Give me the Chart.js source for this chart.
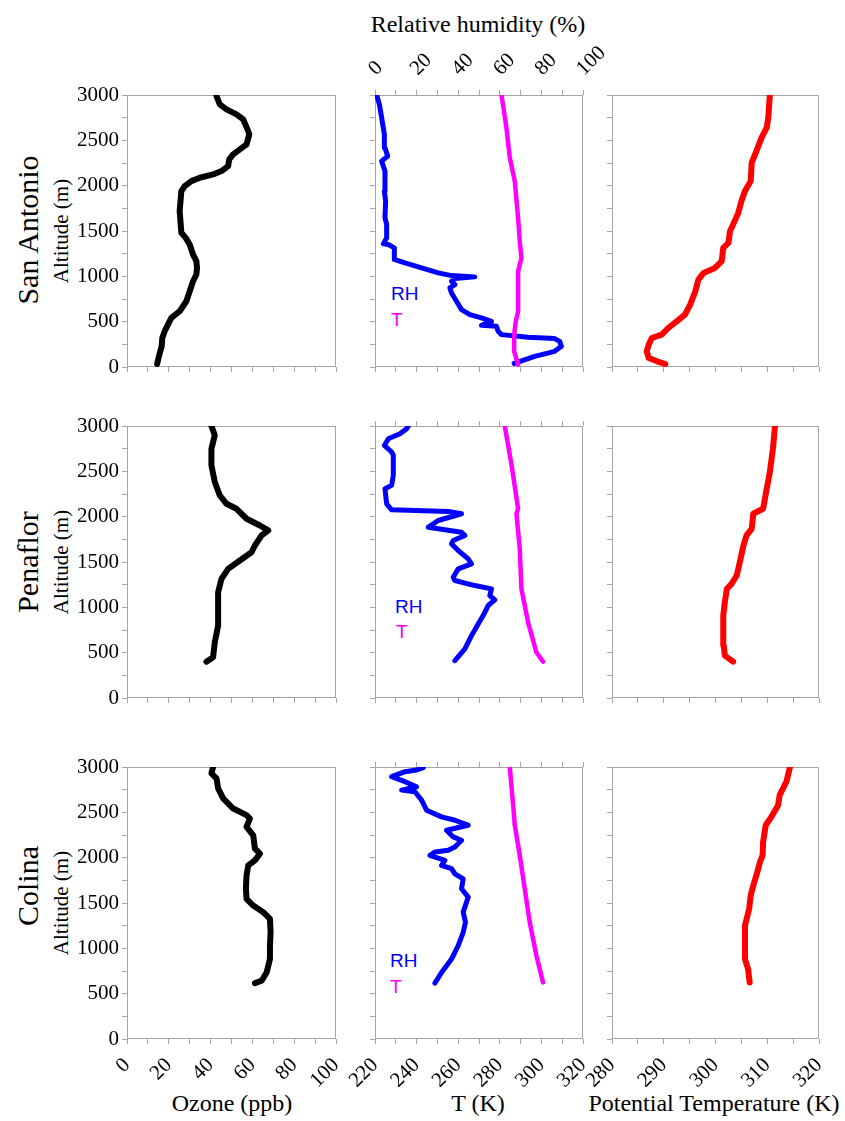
<!DOCTYPE html>
<html>
<head>
<meta charset="utf-8">
<script src="https://cdn.jsdelivr.net/npm/chart.js@4"></script>
<style>
body { margin: 0; background: #fff; }
#page { position: relative; width: 845px; height: 1121px; font-family: 'Liberation Serif', 'Times New Roman', serif; color: #000; overflow: hidden; }
canvas { position: absolute; }
.lbl { position: absolute; white-space: nowrap; line-height: 1; transform: translate(-50%, -50%); }
.rot { transform: translate(-50%, -50%) rotate(-90deg); }
.note { position: absolute; font-family: 'Liberation Sans', Arial, sans-serif; font-size: 19px; line-height: 1; }
</style>
</head>
<body>
<div id="page">
  <div class="lbl" style="left:478px;top:24px;font-size:24px;">Relative humidity (%)</div>

  <div class="lbl rot" style="left:28px;top:230px;font-size:30px;">San Antonio</div>
  <div class="lbl rot" style="left:61px;top:231px;font-size:21px;">Altitude (m)</div>
  <div class="lbl rot" style="left:28px;top:562px;font-size:30px;">Penaflor</div>
  <div class="lbl rot" style="left:61px;top:562px;font-size:21px;">Altitude (m)</div>
  <div class="lbl rot" style="left:28px;top:886px;font-size:30px;">Colina</div>
  <div class="lbl rot" style="left:61px;top:903px;font-size:21px;">Altitude (m)</div>

  <div class="note" style="left:391px;top:284px;color:#0000ff;">RH</div>
  <div class="note" style="left:391px;top:310px;color:#ff00ff;">T</div>
  <div class="note" style="left:395px;top:597px;color:#0000ff;">RH</div>
  <div class="note" style="left:396px;top:622px;color:#ff00ff;">T</div>
  <div class="note" style="left:390px;top:951px;color:#0000ff;">RH</div>
  <div class="note" style="left:390px;top:977px;color:#ff00ff;">T</div>

  <div class="lbl" style="left:232px;top:1103px;font-size:24px;">Ozone (ppb)</div>
  <div class="lbl" style="left:478px;top:1103px;font-size:24px;">T (K)</div>
  <div class="lbl" style="left:714px;top:1103px;font-size:24px;">Potential Temperature (K)</div>
</div>
<script>
// profiles: [value, altitude (m)]
const saOzone = [[14.4,33],[14.9,81],[15.7,155],[16.6,228],[16.9,320],[18,394],[19.6,467],[21.2,541],[25.2,615],[28.4,725],[30,836],[31.6,946],[33.2,1020],[33.5,1093],[33.2,1167],[31.6,1240],[30,1351],[28.1,1424],[26,1480],[25.7,1572],[25.2,1719],[25.6,1829],[26,1940],[27.6,1995],[30.8,2050],[34.8,2087],[41.2,2124],[45.2,2161],[48.4,2216],[48.9,2290],[50.8,2345],[54,2400],[57.2,2455],[58.5,2566],[58,2602],[55.6,2731],[52.4,2786],[47.6,2842],[44.4,2897],[42.8,2990]];
const saT = [[288.8,26],[286.9,173],[286.9,357],[287.7,504],[288.8,615],[288.8,835],[288.8,1056],[290.4,1204],[289.6,1388],[288.8,1645],[287.2,2050],[284.8,2308],[283.2,2639],[280.8,3000]];
const saRH = [[66.9,40],[76.8,118],[86.4,173],[89.6,228],[88.8,283],[86.4,313],[73.6,328],[60.8,357],[59.2,394],[58.4,449],[51.2,460],[56,504],[51.2,541],[45.6,578],[41.6,633],[39.2,725],[36.8,817],[36,872],[38.4,909],[36.8,946],[38.4,975],[48,994],[36.8,1008],[30.4,1038],[22.4,1093],[14.4,1148],[9.6,1185],[9.3,1314],[6.4,1351],[4,1358],[5.6,1424],[5.6,1572],[4.8,1645],[5.1,1829],[4.5,1940],[4.8,2013],[4.8,2161],[3.2,2271],[6.1,2326],[4.8,2418],[4.5,2566],[3.2,2750],[2.1,2897],[0.8,3000]];
const saTheta = [[290.3,33],[288.7,63],[287.1,99],[286.7,173],[287.1,247],[287.7,320],[289.6,357],[290.9,431],[292.5,504],[294.1,578],[295.1,688],[296.1,835],[296.7,964],[297.7,1038],[299.9,1093],[301.2,1167],[301.5,1314],[302.5,1369],[302.8,1498],[303.4,1572],[304.4,1700],[305,1829],[305.7,1940],[306.8,2050],[307,2253],[307.9,2382],[308.9,2529],[309.9,2639],[310.2,2750],[310.5,3000]];

const penOzone = [[38,401],[41.2,449],[42,615],[43.6,799],[43.6,982],[43.6,1167],[45.2,1314],[48.4,1424],[54,1517],[59.6,1608],[61.2,1682],[64.4,1793],[67.6,1848],[63.6,1903],[57.2,1977],[52.4,2087],[47.6,2142],[44.4,2234],[42,2382],[40.4,2566],[40.4,2750],[42,2897],[40.4,3000]];
const penT = [[300.8,401],[297.6,504],[293.6,835],[290.4,1204],[289.6,1645],[288,2032],[288.8,2087],[285.6,2576],[282.4,3000]];
const penRH = [[38.4,412],[43.2,541],[46.4,688],[49.6,817],[52,909],[54.4,1020],[57.6,1082],[55.2,1130],[56,1204],[48,1240],[38.4,1296],[37.6,1332],[40,1424],[46.4,1480],[44.8,1535],[40,1627],[36.8,1700],[37.6,1737],[43.2,1793],[41.6,1829],[25.6,1884],[30.4,1958],[41.6,2032],[35.2,2058],[8,2076],[5.6,2142],[4.8,2308],[8,2345],[8.8,2455],[8.8,2676],[8,2713],[4.5,2786],[6.4,2860],[12,2915],[15.2,2970],[16,3000]];
const penTheta = [[303.4,401],[301.8,467],[301.6,578],[301.5,725],[301.5,909],[301.8,1056],[302.2,1204],[303.1,1259],[304.1,1351],[304.7,1498],[305.4,1682],[306,1793],[307,1866],[307.3,2032],[309.2,2087],[309.9,2308],[310.5,2492],[311.1,2750],[311.5,3000]];

const colOzone = [[61.2,616],[64.4,642],[66.8,734],[68.4,882],[68.4,1030],[68.7,1177],[68.4,1325],[65.2,1399],[60.4,1472],[57.2,1546],[56.9,1657],[57.2,1804],[58,1915],[61.2,1970],[63.6,2044],[61.2,2100],[60.4,2247],[57.2,2339],[58.8,2432],[57.2,2469],[50.8,2542],[46,2653],[43.6,2764],[42.8,2875],[40.4,2930],[41.2,3000]];
const colT = [[300.8,624],[297.6,919],[294.4,1288],[292,1657],[289.6,2026],[287.2,2358],[286.4,2579],[284.8,3000]];
const colRH = [[28.8,616],[32,734],[36.8,882],[40,1030],[42.4,1177],[43.5,1288],[42.4,1399],[44.8,1565],[41.6,1657],[42.4,1767],[38.4,1822],[36.8,1878],[32,1915],[33.6,1970],[26.4,2026],[28.8,2063],[35.2,2081],[38.4,2118],[41.6,2192],[37.6,2229],[34.4,2303],[44.8,2358],[38.4,2413],[32,2450],[24.8,2524],[22.4,2635],[19.2,2727],[12.8,2745],[20,2782],[14.4,2838],[8,2893],[14.4,2948],[20,2967],[23.2,2993]];
const colTheta = [[306.6,624],[306.3,771],[305.7,882],[305.7,1066],[305.7,1251],[306.5,1435],[306.8,1583],[307.3,1694],[307.9,1804],[308.6,1952],[309.1,2026],[309.2,2173],[309.7,2358],[310.8,2450],[312.1,2579],[312.4,2690],[313.7,2838],[314.4,3000]];

const AXIS = '#a6a6a6';
Chart.defaults.font.family = "'Liberation Serif', 'Times New Roman', serif";
Chart.defaults.font.size = 21;
Chart.defaults.color = '#000';

const page = document.getElementById('page');
const cols = [
    { x: 127, w: 209, min: 0, max: 100, step: 10, every: 20 },
    { x: 375, w: 208, min: 220, max: 320, step: 10, every: 20 },
    { x: 612, w: 207, min: 280, max: 320, step: 5, every: 10 }
];
const rows = [{ y: 95 }, { y: 426 }, { y: 767 }];
const H = 272;

const frame = {
    id: 'frame',
    beforeDatasetsDraw(chart) {
        const { ctx, chartArea: a } = chart;
        ctx.save();
        ctx.strokeStyle = AXIS;
        ctx.lineWidth = 1;
        ctx.strokeRect(Math.round(a.left) + 0.5, Math.round(a.top) + 0.5, Math.round(a.width) - 1, Math.round(a.height) - 1);
        ctx.restore();
    }
};

function series(points, color, width, axis) {
    return {
        data: points.map(p => ({ x: p[0], y: p[1] })),
        showLine: true,
        borderColor: color,
        backgroundColor: color,
        borderWidth: width,
        pointRadius: 0,
        borderCapStyle: 'round',
        borderJoinStyle: 'round',
        xAxisID: axis || 'x'
    };
}

function axisX(min, max, step, every, showLabels, position, size, pad, shift) {
    return {
        type: 'linear', position, min, max,
        border: { display: false },
        grid: { drawOnChartArea: false, drawTicks: true, tickLength: 5, color: AXIS },
        ticks: {
            stepSize: step, autoSkip: false, minRotation: 45, maxRotation: 45, padding: pad, labelOffset: shift,
            callback: v => (showLabels && v % every === 0) ? String(v) : ''
        },
        afterFit: s => { s.height = size; }
    };
}

function panel(r, c, datasets) {
    const col = cols[c], row = rows[r];
    // padding kept wider than any label overflow so the plot box lands exactly
    const padL = c === 0 ? 75 : 42, padR = 36;
    const padT = (c === 1 && r === 0) ? 85 : 16;
    const padB = r === 2 ? 75 : 16;
    const cv = document.createElement('canvas');
    cv.width = padL + col.w + padR;
    cv.height = padT + H + padB;
    cv.style.left = (col.x - padL) + 'px';
    cv.style.top = (row.y - padT) + 'px';
    page.appendChild(cv);

    const scales = {
        x: axisX(col.min, col.max, col.step, col.every, r === 2, 'bottom', padB, 9, 0),
        y: {
            type: 'linear', min: 0, max: 3000,
            border: { display: false },
            grid: { drawOnChartArea: false, tickLength: 5, color: AXIS },
            ticks: { stepSize: 250, autoSkip: false, padding: 3, callback: v => (c === 0 && v % 500 === 0) ? String(v) : '' },
            afterFit: s => { s.width = padL; }
        }
    };
    if (c === 1) scales.x2 = axisX(0, 100, 10, 20, r === 0, 'top', padT, 9, 15);

    new Chart(cv, {
        type: 'scatter',
        data: { datasets },
        options: {
            responsive: false,
            animation: false,
            events: [],
            layout: { autoPadding: false, padding: { top: c === 1 ? 0 : padT, right: padR, left: 0, bottom: 0 } },
            plugins: { legend: { display: false }, tooltip: { enabled: false } },
            scales
        },
        plugins: [frame]
    });
}

const sites = [
    { ozone: saOzone, t: saT, rh: saRH, theta: saTheta },
    { ozone: penOzone, t: penT, rh: penRH, theta: penTheta },
    { ozone: colOzone, t: colT, rh: colRH, theta: colTheta }
];

sites.forEach((s, r) => {
    panel(r, 0, [series(s.ozone, '#000000', 6)]);
    panel(r, 1, [series(s.t, '#ff00ff', 4.5), series(s.rh, '#0000ff', 5, 'x2')]);
    panel(r, 2, [series(s.theta, '#ff0000', 6)]);
});
</script>
</body>
</html>
